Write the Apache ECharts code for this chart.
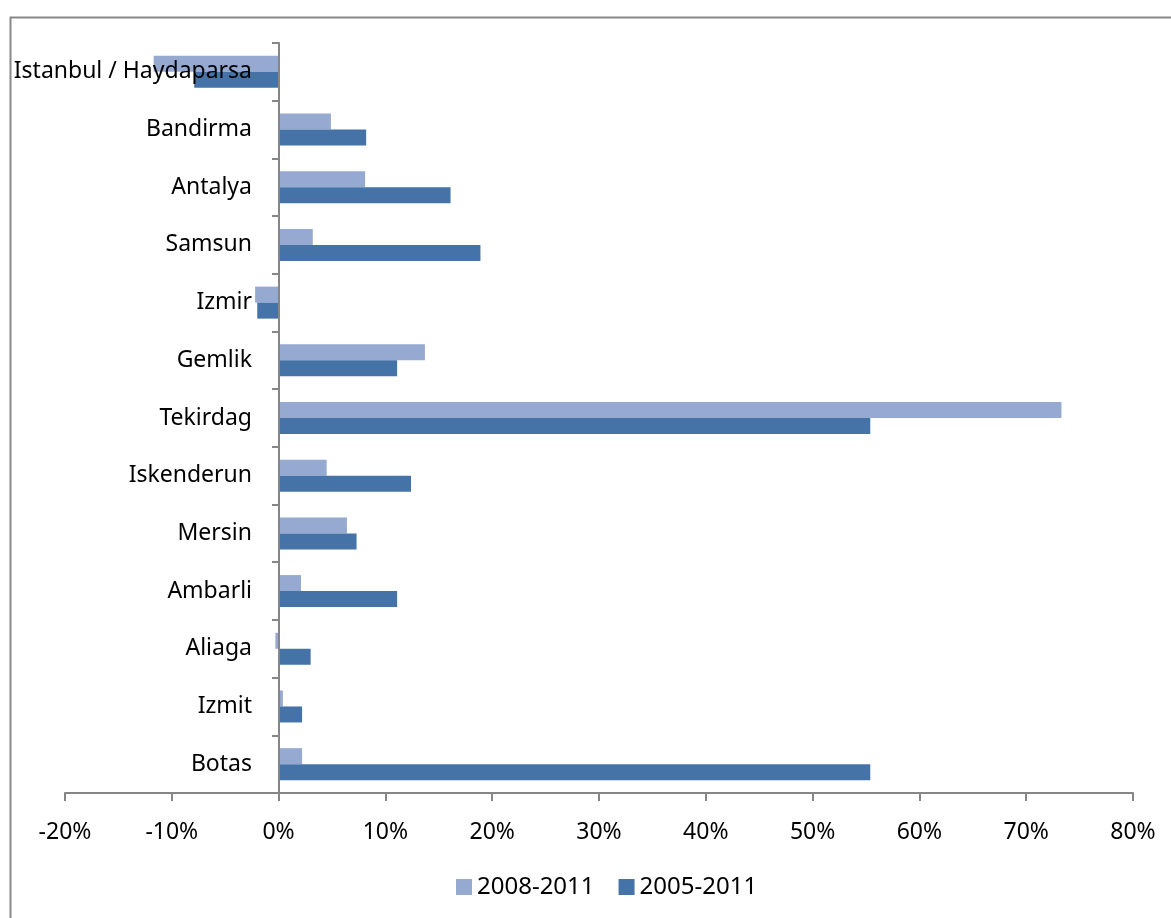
<!DOCTYPE html>
<html>
<head>
<meta charset="utf-8">
<script src="https://cdn.jsdelivr.net/npm/echarts@6/dist/echarts.min.js"></script>
<style>html,body{margin:0;padding:0;background:#fff}#c{width:1171px;height:918px}</style>
</head>
<body>
<div id="c"></div>
<script>
var categories = ['Istanbul / Haydaparsa','Bandirma','Antalya','Samsun','Izmir','Gemlik','Tekirdag','Iskenderun','Mersin','Ambarli','Aliaga','Izmit','Botas'];
var s2008_2011 = [-11.7, 4.9, 8.1, 3.2, -2.2, 13.7, 73.3, 4.5, 6.4, 2.1, -0.3, 0.4, 2.2];
var s2005_2011 = [-7.9, 8.2, 16.1, 18.9, -2.0, 11.1, 55.4, 12.4, 7.3, 11.1, 3.0, 2.2, 55.4];
var seriesNames = ['2008-2011', '2005-2011'];
var xTicks = {min: -20, max: 80, interval: 10};

var font = '"Noto Sans", "Open Sans", sans-serif';
var chart = echarts.init(document.getElementById('c'));
chart.setOption({
  animation: false,
  textStyle: {fontFamily: font},
  graphic: [{
    type: 'rect', left: 8, top: 15, z: -10,
    shape: {width: 1300, height: 1000},
    style: {fill: 'none', stroke: '#888888', lineWidth: 2}
  }],
  grid: {left: 65, right: 38, top: 43, bottom: 125, containLabel: false, outerBoundsMode: 'none'},
  legend: {
    data: seriesNames, bottom: 14, left: 451,
    itemWidth: 16, itemHeight: 16, itemGap: 24,
    textStyle: {fontSize: 24, color: '#000', fontFamily: font},
    icon: 'rect'
  },
  xAxis: {
    type: 'value', min: xTicks.min, max: xTicks.max, interval: xTicks.interval,
    axisLine: {show: true, lineStyle: {color: '#868686', width: 2}},
    axisTick: {show: true, length: 8, lineStyle: {color: '#868686', width: 2}},
    splitLine: {show: false},
    axisLabel: {formatter: '{value}%', fontSize: 23, color: '#000', margin: 28, fontFamily: font}
  },
  yAxis: {
    type: 'category', data: categories, inverse: true, z: 5, offset: -214,
    axisLine: {show: true, onZero: false, lineStyle: {color: '#868686', width: 2}},
    axisTick: {show: true, length: 7, lineStyle: {color: '#868686', width: 2}},
    axisLabel: {fontSize: 23, color: '#000', margin: 27, padding: [5, 0, 0, 0], fontFamily: font}
  },
  series: [
    {name: seriesNames[0], type: 'bar', data: s2008_2011, barWidth: 16, barGap: '0%',
     itemStyle: {color: '#95a9d1'}},
    {name: seriesNames[1], type: 'bar', data: s2005_2011, barWidth: 16, barGap: '0%',
     itemStyle: {color: '#4573a7'}}
  ]
});
</script>
</body>
</html>
